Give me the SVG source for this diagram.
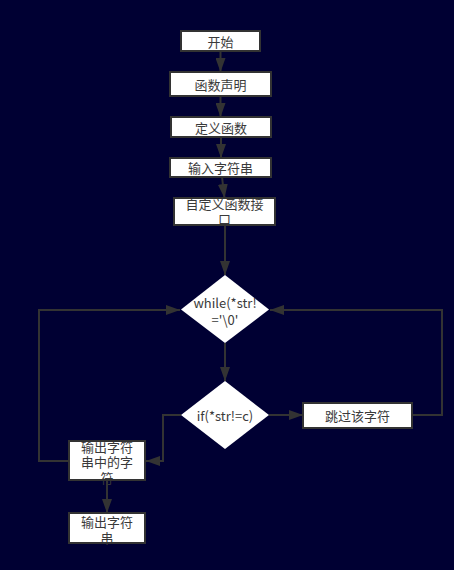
<svg xmlns="http://www.w3.org/2000/svg" width="454" height="570" viewBox="0 0 454 570">
<style>
.bg{fill:#000033}
.box{fill:#ffffff;stroke:none}
.bd{fill:none;stroke:#333333;stroke-width:2}
.dia{fill:#ffffff;stroke:none}
.t{font-family:"Noto Sans CJK SC","Microsoft YaHei",sans-serif;font-size:13px;fill:#3a3a3a;text-anchor:middle;dominant-baseline:central}
.c{fill:none;stroke:#333333;stroke-width:2}
</style>
<defs>
<marker id="ah" markerUnits="userSpaceOnUse" markerWidth="14" markerHeight="10" refX="14" refY="5" orient="auto">
<path d="M0,0 L14,5 L0,10 z" fill="#333333"/>
</marker>
</defs>
<rect class="bg" x="0" y="0" width="454" height="570"/>
<g id="connectors">
<path class="c" d="M220.5,51 V72" marker-end="url(#ah)"/>
<path class="c" d="M220.5,96 V117" marker-end="url(#ah)"/>
<path class="c" d="M221,137 V158" marker-end="url(#ah)"/>
<path class="c" d="M222,177 L224.5,198" marker-end="url(#ah)"/>
<path class="c" d="M225,225 V275" marker-end="url(#ah)"/>
<path class="c" d="M225,343 V381" marker-end="url(#ah)"/>
<path class="c" d="M269,415 H303" marker-end="url(#ah)"/>
<path class="c" d="M412,415 H442 V310 H270" marker-end="url(#ah)"/>
<path class="c" d="M181,415 H163 V461 H146" marker-end="url(#ah)"/>
<path class="c" d="M69,461 H39 V310 H180" marker-end="url(#ah)"/>
<path class="c" d="M107,480 V513" marker-end="url(#ah)"/>
</g>
<g id="start">
<rect class="box" x="181" y="31" width="79" height="20"/>
<rect class="bd" x="181" y="31" width="79" height="20"/>
<text class="t" x="220.5" y="41">开始</text>
</g>
<g id="declare">
<rect class="box" x="170" y="72" width="101" height="24"/>
<rect class="bd" x="170" y="72" width="101" height="24"/>
<text class="t" x="220.5" y="84">函数声明</text>
</g>
<g id="define">
<rect class="box" x="171" y="117" width="100" height="20"/>
<rect class="bd" x="171" y="117" width="100" height="20"/>
<text class="t" x="221" y="127">定义函数</text>
</g>
<g id="input">
<rect class="box" x="170" y="158" width="101" height="19"/>
<rect class="bd" x="170" y="158" width="101" height="19"/>
<text class="t" x="220.5" y="167.5">输入字符串</text>
</g>
<g id="custom">
<rect class="box" x="174" y="198" width="101" height="27"/>
<text class="t" x="224.5" y="203">自定义函数接</text>
<text class="t" x="224.5" y="218">口</text>
<rect class="bd" x="174" y="198" width="101" height="27"/>
</g>
<g id="while">
<polygon class="dia" points="225,275 269,309.5 225,343 181,309.5"/>
<text class="t" x="225" y="302">while(*str!</text>
<text class="t" x="225" y="319">='\0'</text>
</g>
<g id="if">
<polygon class="dia" points="225,381 269,415 225,449 181,415"/>
<text class="t" x="225" y="415">if(*str!=c)</text>
</g>
<g id="skip">
<rect class="box" x="303" y="403" width="109" height="25"/>
<rect class="bd" x="303" y="403" width="109" height="25"/>
<text class="t" x="357.5" y="415.5">跳过该字符</text>
</g>
<g id="outchar">
<rect class="box" x="69" y="441" width="76" height="39"/>
<text class="t" x="107" y="446">输出字符</text>
<text class="t" x="107" y="461.5">串中的字</text>
<text class="t" x="107" y="477">符</text>
<rect class="bd" x="69" y="441" width="76" height="39"/>
</g>
<g id="outstr">
<rect class="box" x="69" y="513" width="76" height="30"/>
<text class="t" x="107" y="521">输出字符</text>
<text class="t" x="107" y="537">串</text>
<rect class="bd" x="69" y="513" width="76" height="30"/>
</g>
</svg>
